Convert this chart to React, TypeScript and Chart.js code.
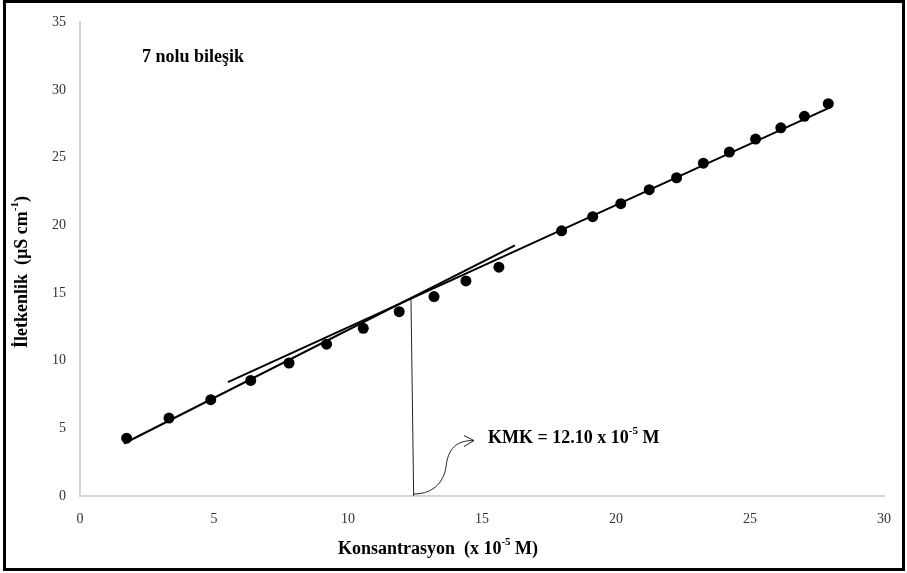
import React, { useEffect, useRef } from "react";
import { Chart, registerables } from "chart.js";

Chart.register(...registerables);

const xValues = [1.74, 3.32, 4.88, 6.37, 7.8, 9.2, 10.57, 11.91, 13.21, 14.4, 15.63, 17.97, 19.13, 20.18, 21.24, 22.26, 23.26, 24.23, 25.21, 26.15, 27.03, 27.92];
const yValues = [4.27, 5.76, 7.12, 8.54, 9.83, 11.22, 12.39, 13.62, 14.74, 15.89, 16.91, 19.6, 20.64, 21.6, 22.64, 23.52, 24.6, 25.42, 26.38, 27.21, 28.06, 28.99];

const lowFitX = [1.64, 16.23];
const lowFitY = [3.88, 18.52];
const highFitX = [5.52, 27.91];
const highFitY = [8.42, 28.65];
const cmcLineX = [12.35, 12.45];
const cmcLineY = [14.6, 0];

const xTicks = [0, 5, 10, 15, 20, 25, 30];
const yTicks = [0, 5, 10, 15, 20, 25, 30, 35];

const seriesTitle = "7 nolu bileşik";
const xTitle = [{ t: "Konsantrasyon  (x 10" }, { t: "-5", sup: true }, { t: " M)" }];
const yTitle = [{ t: "İletkenlik  (µS cm" }, { t: "-1", sup: true }, { t: ")" }];
const cmcText = [{ t: "KMK = 12.10 x 10" }, { t: "-5", sup: true }, { t: " M" }];

// curved arrow path (data units): start, bezier controls, end
const arrowPts = [
  [12.46, 0.15],
  [13.25, 0.15], [13.6, 1.2], [13.66, 2.2],
  [13.75, 3.8], [14.2, 4.1], [14.7, 4.1],
];

type Part = { t: string; sup?: boolean };
const FONT = "'Liberation Serif', 'Times New Roman', serif";

function drawRich(ctx: CanvasRenderingContext2D, parts: Part[], x: number, y: number, size: number, align: "left" | "center") {
  const big = `bold ${size}px ${FONT}`;
  const small = `bold ${Math.round(size * 0.62)}px ${FONT}`;
  let total = 0;
  for (const p of parts) {
    ctx.font = p.sup ? small : big;
    total += ctx.measureText(p.t).width;
  }
  let cx = align === "center" ? x - total / 2 : x;
  ctx.textBaseline = "middle";
  ctx.textAlign = "left";
  for (const p of parts) {
    ctx.font = p.sup ? small : big;
    ctx.fillText(p.t, cx, p.sup ? y - size * 0.36 : y);
    cx += ctx.measureText(p.t).width;
  }
}

const overlay = {
  id: "overlay",
  afterDraw(chart: any) {
    const ctx: CanvasRenderingContext2D = chart.ctx;
    const xs = chart.scales.x;
    const ys = chart.scales.y;
    const px = (v: number) => xs.getPixelForValue(v);
    const py = (v: number) => ys.getPixelForValue(v);
    ctx.save();
    ctx.fillStyle = "#000";
    ctx.font = `bold 18px ${FONT}`;
    ctx.textAlign = "left";
    ctx.textBaseline = "middle";
    ctx.fillText(seriesTitle, 142, 57);
    drawRich(ctx, xTitle, 438, 549, 18, "center");
    ctx.save();
    ctx.translate(22, 272);
    ctx.rotate(-Math.PI / 2);
    drawRich(ctx, yTitle, 0, 0, 18, "center");
    ctx.restore();
    drawRich(ctx, cmcText, 488, 438, 18, "left");
    // curved arrow
    const p = arrowPts.map(([a, b]) => [px(a), py(b)]);
    ctx.strokeStyle = "#222";
    ctx.lineWidth = 1;
    ctx.beginPath();
    ctx.moveTo(p[0][0], p[0][1]);
    ctx.bezierCurveTo(p[1][0], p[1][1], p[2][0], p[2][1], p[3][0], p[3][1]);
    ctx.bezierCurveTo(p[4][0], p[4][1], p[5][0], p[5][1], p[6][0], p[6][1]);
    ctx.stroke();
    const tip = p[6];
    ctx.beginPath();
    ctx.moveTo(tip[0] - 10, tip[1] - 5);
    ctx.lineTo(tip[0], tip[1]);
    ctx.lineTo(tip[0] - 10, tip[1] + 6);
    ctx.stroke();
    // frame
    ctx.strokeStyle = "#000";
    ctx.lineWidth = 3;
    ctx.strokeRect(4.5, 1.5, 899, 568);
    ctx.restore();
  },
};

export default function App() {
  const ref = useRef<HTMLCanvasElement | null>(null);
  useEffect(() => {
    if (!ref.current) return;
    const pts = xValues.map((x, i) => ({ x, y: yValues[i] }));
    const mk = (xs: number[], ys: number[]) => xs.map((x, i) => ({ x, y: ys[i] }));
    const chart = new Chart(ref.current, {
      type: "scatter",
      data: {
        datasets: [
          { data: mk(lowFitX, lowFitY), showLine: true, borderColor: "#000", borderWidth: 2, pointRadius: 0 },
          { data: mk(highFitX, highFitY), showLine: true, borderColor: "#000", borderWidth: 2, pointRadius: 0 },
          { data: mk(cmcLineX, cmcLineY), showLine: true, borderColor: "#222", borderWidth: 1, pointRadius: 0 },
          { data: pts, showLine: false, pointRadius: 5.5, pointBackgroundColor: "#000", pointBorderColor: "#000", borderWidth: 0 },
        ],
      },
      options: {
        responsive: false,
        animation: false,
        layout: { padding: { left: 0, top: 18, right: 23, bottom: 0 } },
        plugins: { legend: { display: false }, tooltip: { enabled: false }, title: { display: false } },
        scales: {
          x: {
            type: "linear",
            min: 0,
            max: 30,
            afterBuildTicks: (s: any) => { s.ticks = xTicks.map((v) => ({ value: v })); },
            afterFit: (s: any) => { s.height = 77; },
            grid: { display: false, drawTicks: false },
            border: { display: true, color: "#d4d4d4", width: 2 },
            ticks: { padding: 15, color: "#333", font: { family: FONT, size: 14 }, maxRotation: 0 },
          },
          y: {
            type: "linear",
            min: 0,
            max: 35,
            afterBuildTicks: (s: any) => { s.ticks = yTicks.map((v) => ({ value: v })); },
            afterFit: (s: any) => { s.width = 80; },
            grid: { display: false, drawTicks: false },
            border: { display: true, color: "#d4d4d4", width: 2 },
            ticks: { padding: 14, color: "#333", font: { family: FONT, size: 14 } },
          },
        },
      },
      plugins: [overlay],
    });
    return () => chart.destroy();
  }, []);
  return (
    <div style={{ position: "absolute", left: 0, top: 0, width: 907, height: 573, background: "#fff" }}>
      <canvas ref={ref} width={907} height={573} style={{ display: "block" }} />
    </div>
  );
}
